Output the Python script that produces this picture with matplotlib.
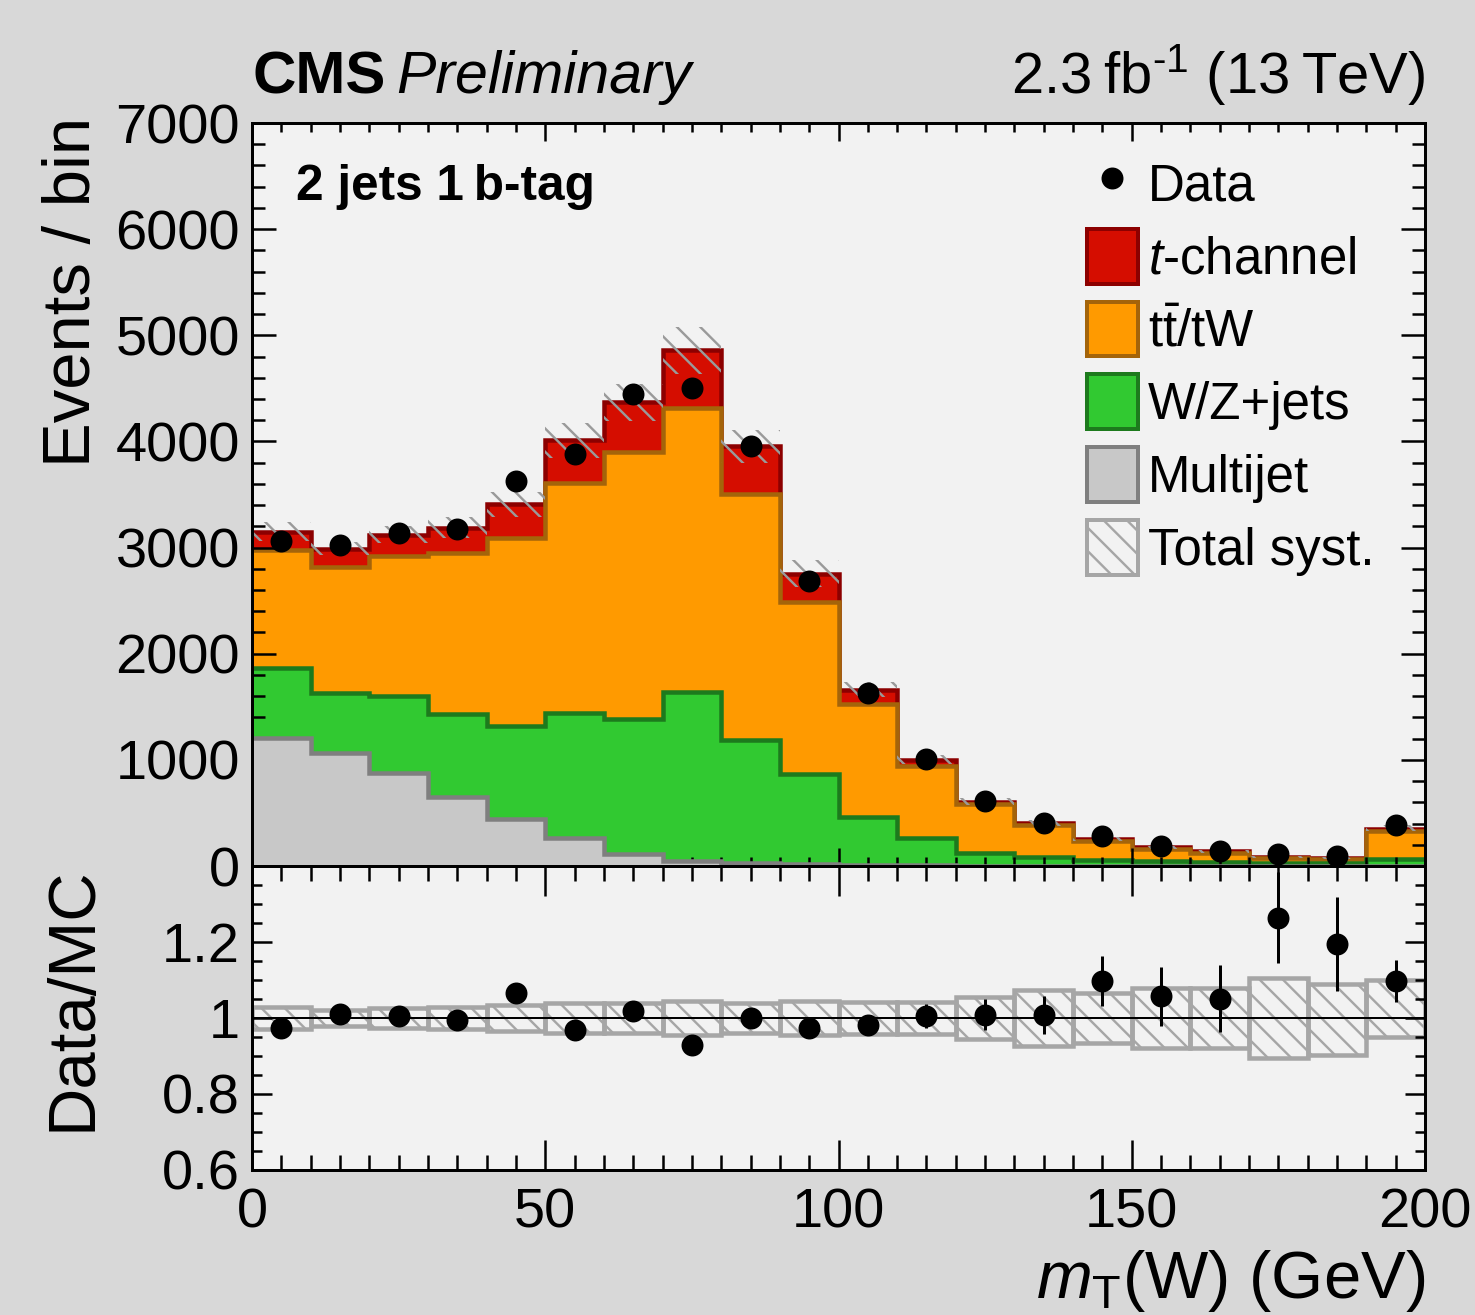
import numpy as np
import matplotlib
matplotlib.use("Agg")
import matplotlib.pyplot as plt
from matplotlib.patches import Patch
from matplotlib.lines import Line2D
from matplotlib.ticker import MultipleLocator, FixedLocator, FixedFormatter

# ---- binning: m_T(W) in GeV, 10 GeV bins ----
bin_edges = np.arange(0, 201, 10)

# ---- per-process event yields in each bin ----
multijet = np.array([1210, 1060, 880, 650, 440, 260, 110, 50, 25, 15,
                     10, 6, 4, 3, 2, 2, 1, 1, 1, 2])
wz_jets = np.array([658, 572, 724, 784, 881, 1183, 1277, 1592, 1164, 853,
                    452, 258, 119, 82, 55, 45, 38, 32, 30, 62])
ttbar_tw = np.array([1113, 1189, 1321, 1519, 1773, 2170, 2509, 2669, 2320, 1623,
                     1066, 679, 462, 302, 179, 113, 84, 42, 35, 266])
t_channel = np.array([170, 170, 198, 236, 312, 396, 472, 547, 444, 264,
                      132, 57, 22, 19, 18, 16, 14, 12, 11, 19])

# ---- observed events ----
data = np.array([3065, 3024, 3139, 3173, 3630, 3881, 4451, 4508, 3953, 2683,
                 1628, 1005, 612, 409, 279, 186, 144, 110, 92, 383])

# ---- relative total systematic uncertainty (up / down) ----
syst_up = np.array([0.029, 0.020, 0.026, 0.030, 0.035, 0.040, 0.040, 0.046, 0.040, 0.046,
                    0.042, 0.042, 0.055, 0.075, 0.065, 0.078, 0.080, 0.106, 0.090, 0.101])
syst_down = np.array([0.029, 0.020, 0.026, 0.030, 0.035, 0.040, 0.040, 0.046, 0.040, 0.046,
                      0.042, 0.042, 0.055, 0.075, 0.065, 0.078, 0.080, 0.106, 0.098, 0.050])

legend_labels = ["Data", r"$t$-channel", r"t$\bar{\mathrm{t}}$/tW", "W/Z+jets",
                 "Multijet", "Total syst."]

DPI = 140


def pt(px):
    """Convert a size given in output pixels to points."""
    return px * 72.0 / DPI


plt.rcParams.update({
    "font.family": "Liberation Sans",
    "mathtext.fontset": "custom",
    "mathtext.rm": "Liberation Sans",
    "mathtext.it": "Liberation Sans:italic",
    "mathtext.bf": "Liberation Sans:bold",
    "hatch.linewidth": pt(2.4),
    "axes.linewidth": pt(3),
})

# colours
RED, RED_E = "#d50d00", "#8c0000"
ORANGE, ORANGE_E = "#ff9a00", "#a4640a"
GREEN, GREEN_E = "#31c931", "#1d7a1d"
GREY, GREY_E = "#c8c8c8", "#7f7f7f"
SYST = "#a6a6a6"

fig = plt.figure(figsize=(1475 / DPI, 1315 / DPI), dpi=DPI, facecolor="#d8d8d8")
ax = fig.add_axes([0.17085, 0.34144, 0.79525, 0.56502], facecolor="#f2f2f2")
rax = fig.add_axes([0.17085, 0.11027, 0.79525, 0.23117], facecolor="#f2f2f2")

centers = 0.5 * (bin_edges[:-1] + bin_edges[1:])

# ---- stacked histograms (cumulative, drawn back to front) ----
cum_grey = multijet
cum_green = cum_grey + wz_jets
cum_orange = cum_green + ttbar_tw
mc_total = cum_orange + t_channel

stack = [(mc_total, RED, RED_E), (cum_orange, ORANGE, ORANGE_E),
         (cum_green, GREEN, GREEN_E), (cum_grey, GREY, GREY_E)]
for i, (vals, fc, ec) in enumerate(stack):
    z = 1.0 + 0.2 * i
    ax.stairs(vals, bin_edges, baseline=0, fill=True, facecolor=fc,
              edgecolor="none", lw=0, zorder=z)
    ax.stairs(vals, bin_edges, baseline=None, color=ec, lw=pt(4.5), zorder=z + 0.1)

# systematic band on the total prediction
ax.stairs(mc_total * (1 + syst_up), bin_edges, baseline=mc_total * (1 - syst_down),
          fill=True, facecolor="none", edgecolor="#9a9a9a", lw=0,
          hatch=r"\\", zorder=2.2)

# data points
ax.errorbar(centers, data, yerr=np.sqrt(data), fmt="o", color="black",
            ms=pt(20), elinewidth=pt(3), capsize=0, zorder=4)

ax.set_xlim(0, 200)
ax.set_ylim(0, 7000)
ax.xaxis.set_major_locator(MultipleLocator(50))
ax.xaxis.set_minor_locator(MultipleLocator(5))
ax.yaxis.set_major_locator(MultipleLocator(1000))
ax.yaxis.set_minor_locator(MultipleLocator(200))
ax.tick_params(axis="x", which="both", direction="in", top=True, bottom=True,
               labelbottom=False, width=pt(2.5))
ax.tick_params(axis="x", which="major", length=pt(18))
ax.tick_params(axis="x", which="minor", length=pt(9))
ax.tick_params(axis="y", which="both", direction="in", left=True, right=True,
               width=pt(2.5), labelsize=pt(56), pad=pt(12))
ax.tick_params(axis="y", which="major", length=pt(24))
ax.tick_params(axis="y", which="minor", length=pt(13))

ax.set_ylabel("Events / bin", fontsize=pt(67), loc="top")
ax.yaxis.set_label_coords(-0.126, 1.008)

# ---- legend ----
handles = [
    Line2D([], [], marker="o", ls="none", color="black", ms=pt(20)),
    Patch(facecolor=RED, edgecolor=RED_E, lw=pt(4)),
    Patch(facecolor=ORANGE, edgecolor=ORANGE_E, lw=pt(4)),
    Patch(facecolor=GREEN, edgecolor=GREEN_E, lw=pt(4)),
    Patch(facecolor=GREY, edgecolor=GREY_E, lw=pt(4)),
    Patch(facecolor="none", edgecolor=SYST, lw=pt(4), hatch=r"\\"),
]
ax.legend(handles, legend_labels, loc="upper left", bbox_to_anchor=(0.7118, 0.956),
          frameon=False, fontsize=pt(51), handlelength=1.0, handleheight=1.28,
          handletextpad=0.2, labelspacing=0.34, borderpad=0, borderaxespad=0)

ax.text(0.0375, 0.8964, "2 jets 1\u2009b-tag", transform=ax.transAxes,
        fontsize=pt(49.5), weight="bold", va="baseline", ha="left")

# ---- header ----
fig.text(253 / 1475, 1 - 93 / 1315, "CMS", fontsize=pt(60), weight="bold",
         va="baseline", ha="left")
fig.text(396 / 1475, 1 - 93 / 1315, "Preliminary", fontsize=pt(59), style="italic",
         va="baseline", ha="left")
fig.text(1425 / 1475, 1 - 93 / 1315, "2.3\u2009fb$^{\u2010\\mathrm{1}}$ (13\u2009TeV)",
         fontsize=pt(58), va="baseline", ha="right")

# ---- ratio panel ----
ratio = data / mc_total
ratio_err = np.sqrt(data) / mc_total

rax.bar(centers, syst_up + syst_down, bottom=1 - syst_down, width=10,
        facecolor="none", edgecolor=SYST, lw=pt(4.5), hatch=r"\\", zorder=1.5)
rax.axhline(1.0, color="black", lw=pt(2), zorder=1.8)
rax.errorbar(centers, ratio, yerr=ratio_err, fmt="o", color="black",
             ms=pt(20), elinewidth=pt(3), capsize=0, zorder=4)

rax.set_xlim(0, 200)
rax.set_ylim(0.6, 1.4)
rax.xaxis.set_major_locator(MultipleLocator(50))
rax.xaxis.set_minor_locator(MultipleLocator(5))
rax.yaxis.set_major_locator(FixedLocator([0.6, 0.8, 1.0, 1.2]))
rax.yaxis.set_major_formatter(FixedFormatter(["0.6", "0.8", "1", "1.2"]))
rax.yaxis.set_minor_locator(MultipleLocator(0.05))
rax.tick_params(axis="x", which="both", direction="in", top=True, bottom=True,
                width=pt(2.5), labelsize=pt(56), pad=pt(18))
rax.tick_params(axis="x", which="major", length=pt(30))
rax.tick_params(axis="x", which="minor", length=pt(15))
rax.tick_params(axis="y", which="both", direction="in", left=True, right=True,
                width=pt(2.5), labelsize=pt(56), pad=pt(12))
rax.tick_params(axis="y", which="major", length=pt(20))
rax.tick_params(axis="y", which="minor", length=pt(10))

rax.set_ylabel("Data/MC", fontsize=pt(67), loc="top")
rax.yaxis.set_label_coords(-0.126, 1.0)
rax.set_xlabel(r"$m_{\mathrm{T}}$(W) (GeV)", fontsize=pt(67), loc="right")
rax.xaxis.set_label_coords(1.0, -0.258)

fig.savefig("out.png", dpi=DPI, facecolor=fig.get_facecolor())
